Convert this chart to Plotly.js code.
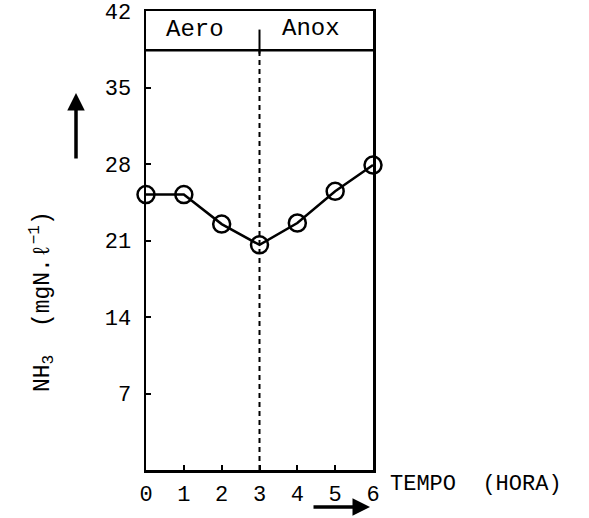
<!DOCTYPE html>
<html>
<head>
<meta charset="utf-8">
<script src="https://cdn.plot.ly/plotly-3.0.1.min.js"></script>
<style>html,body{margin:0;padding:0;background:#fff;}#chart{width:589px;height:518px;}</style>
</head>
<body>
<div id="chart"></div>
<script>
// Data
const hours = [0, 1, 2, 3, 4, 5, 6];
const nh3 = [25.2, 25.2, 22.5, 20.6, 22.6, 25.5, 27.9];
const yTickVals = [7, 14, 21, 28, 35, 42];
const xTickVals = [0, 1, 2, 3, 4, 5, 6];
const phaseLabels = ['Aero', 'Anox'];
const phaseSwitch = 3;

const FONT = 'Liberation Mono, Courier New, monospace';

const trace = {
  x: hours, y: nh3, type: 'scatter', mode: 'lines+markers',
  line: {color: '#000', width: 2.5},
  marker: {symbol: 'circle-open', size: 17, color: '#000', line: {width: 2.5, color: '#000'}},
  cliponaxis: false,
  hoverinfo: 'skip', showlegend: false
};

const layout = {
  width: 589, height: 518,
  margin: {l: 146, r: 216, t: 11, b: 48},
  paper_bgcolor: '#fff', plot_bgcolor: '#fff',
  font: {family: FONT, color: '#000', size: 21},
  xaxis: {
    range: [0, 6], tickvals: xTickVals, ticktext: xTickVals.map(String),
    showline: true, linecolor: '#000', linewidth: 2.5, mirror: true,
    ticks: 'inside', ticklen: 5, tickwidth: 2, tickcolor: '#000',
    showgrid: false, zeroline: false, ticklabelstandoff: 2,
    tickfont: {family: FONT, size: 22}
  },
  yaxis: {
    range: [0, 42], tickvals: yTickVals, ticktext: yTickVals.map(String),
    showline: true, linecolor: '#000', linewidth: 2.5, mirror: true,
    ticks: 'inside', ticklen: 5, tickwidth: 2, tickcolor: '#000',
    showgrid: false, zeroline: false, ticklabelstandoff: 8,
    tickfont: {family: FONT, size: 22}
  },
  shapes: [
    // header separator
    {type: 'line', xref: 'x', yref: 'y', x0: 0, x1: 6, y0: 38.4, y1: 38.4, line: {color: '#000', width: 2.5}},
    // phase divider dashed
    {type: 'line', xref: 'x', yref: 'y', x0: phaseSwitch, x1: phaseSwitch, y0: 0, y1: 38.4, line: {color: '#000', width: 2, dash: '5px,4px'}},
    // divider in header
    {type: 'line', xref: 'x', yref: 'y', x0: phaseSwitch, x1: phaseSwitch, y0: 38.1, y1: 40.3, line: {color: '#000', width: 2}}
  ],
  annotations: [
    {xref: 'x', yref: 'y', x: 1.3, y: 40.3, text: phaseLabels[0], showarrow: false, font: {family: FONT, size: 24}},
    {xref: 'x', yref: 'y', x: 4.35, y: 40.4, text: phaseLabels[1], showarrow: false, font: {family: FONT, size: 24}},
    // y axis title
    {xref: 'paper', yref: 'paper', x: (42 - 146) / 227, y: (470 - 302) / 459, xanchor: 'center', yanchor: 'middle',
     text: 'NH<sub>3</sub>  (mgN.ℓ<sup>−1</sup>)', textangle: -90, showarrow: false, font: {family: FONT, size: 23}},
    // up arrow
    {xref: 'paper', yref: 'paper', x: (76 - 146) / 227, y: (470 - 93) / 459, ax: 0, ay: 67, text: '',
     showarrow: true, arrowhead: 2, arrowsize: 1, arrowwidth: 3.5, arrowcolor: '#000'},
    // x axis title
    {xref: 'paper', yref: 'paper', x: (388 - 146) / 227, y: (470 - 484) / 459, xanchor: 'left', yanchor: 'middle',
     text: 'TEMPO  (HORA)', showarrow: false, font: {family: FONT, size: 22}},
    // right arrow
    {xref: 'paper', yref: 'paper', x: (370 - 146) / 227, y: (470 - 507) / 459, ax: -58, ay: 0, text: '',
     showarrow: true, arrowhead: 2, arrowsize: 1, arrowwidth: 3.5, arrowcolor: '#000'}
  ]
};

Plotly.newPlot('chart', [trace], layout, {staticPlot: true, displayModeBar: false});
</script>
</body>
</html>
